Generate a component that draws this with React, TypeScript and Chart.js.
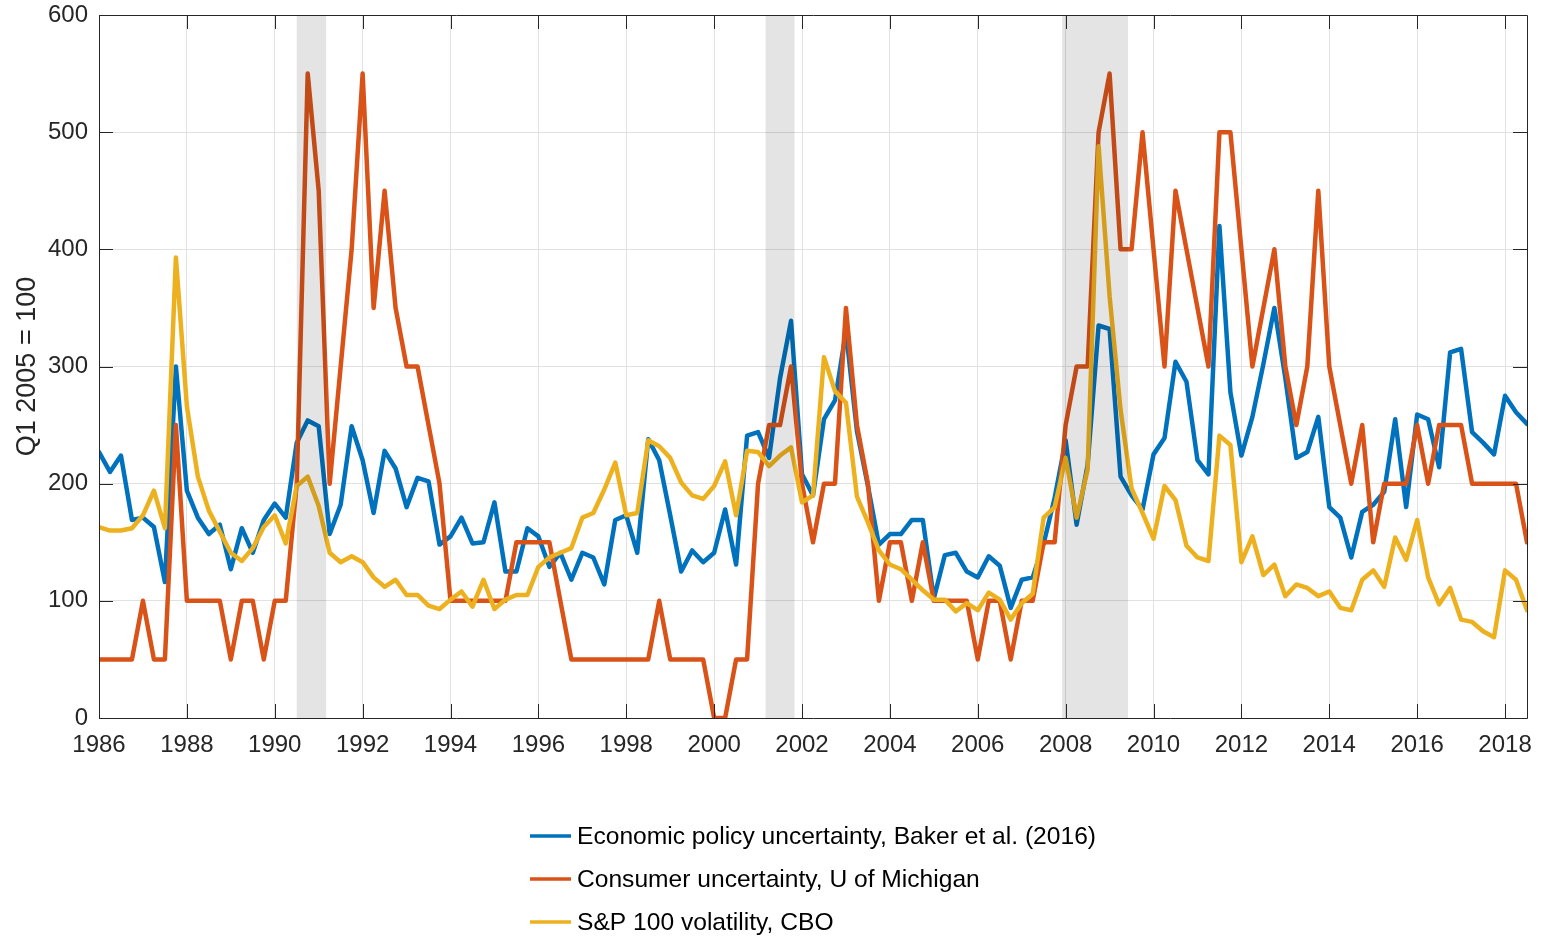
import { useEffect, useRef } from 'react';
import { Chart, registerables } from 'chart.js';

Chart.register(...registerables);

const FONT = '"Liberation Sans", Arial, Helvetica, sans-serif';
const TEXT = '#262626';

const startYear = 1986;
const seriesLabels = [
  'Economic policy uncertainty, Baker et al. (2016)',
  'Consumer uncertainty, U of Michigan',
  'S&P 100 volatility, CBO',
];
const seriesColors = ['#0072BD', '#D95319', '#EDB120'];

// quarterly values, 1986Q1 .. 2018Q3
const policyUncertainty = [
  227, 210, 224, 169,
  171, 163, 116, 300,
  194, 171, 157, 165,
  127, 162, 141, 169,
  183, 171, 235, 254,
  249, 157, 182, 249,
  220, 175, 228, 213,
  180, 205, 202, 148,
  155, 171, 149, 150,
  184, 125, 125, 162,
  155, 129, 141, 118,
  141, 137, 114, 169,
  173, 141, 238, 220,
  173, 125, 143, 133,
  141, 178, 131, 241,
  244, 222, 290, 339,
  208, 190, 255, 271,
  330, 245, 198, 148,
  157, 157, 169, 169,
  102, 139, 141, 125,
  120, 138, 130, 94,
  118, 120, 149, 188,
  237, 165, 216, 335,
  332, 206, 190, 178,
  225, 239, 304, 287,
  220, 208, 420, 278,
  224, 257, 302, 350,
  290, 222, 227, 257,
  180, 171, 137, 176,
  182, 193, 255, 180,
  259, 255, 214, 312,
  315, 244, 235, 225,
  275, 261, 251,
];

const consumerUncertainty = [
  50, 50, 50, 50,
  100, 50, 50, 250,
  100, 100, 100, 100,
  50, 100, 100, 50,
  100, 100, 200, 550,
  450, 200, 300, 400,
  550, 350, 450, 350,
  300, 300, 250, 200,
  100, 100, 100, 100,
  100, 100, 150, 150,
  150, 150, 100, 50,
  50, 50, 50, 50,
  50, 50, 50, 100,
  50, 50, 50, 50,
  0, 0, 50, 50,
  200, 250, 250, 300,
  200, 150, 200, 200,
  350, 250, 200, 100,
  150, 150, 100, 150,
  100, 100, 100, 100,
  50, 100, 100, 50,
  100, 100, 150, 150,
  250, 300, 300, 500,
  550, 400, 400, 500,
  400, 300, 450, 400,
  350, 300, 500, 500,
  400, 300, 350, 400,
  300, 250, 300, 450,
  300, 250, 200, 250,
  150, 200, 200, 200,
  250, 200, 250, 250,
  250, 200, 200, 200,
  200, 200, 150,
];

const sp100Volatility = [
  163, 160, 160, 162,
  173, 194, 162, 393,
  266, 206, 177, 159,
  141, 134, 145, 163,
  173, 149, 198, 206,
  181, 141, 133, 138,
  133, 120, 112, 118,
  105, 105, 96, 93,
  101, 108, 95, 118,
  93, 101, 105, 105,
  129, 137, 141, 145,
  171, 175, 195, 218,
  173, 175, 237, 232,
  222, 201, 190, 187,
  198, 219, 173, 228,
  227, 215, 224, 231,
  184, 190, 308, 279,
  269, 189, 167, 143,
  131, 127, 118, 109,
  101, 101, 91, 98,
  92, 107, 101, 84,
  98, 106, 171, 180,
  222, 171, 212, 488,
  360, 263, 196, 175,
  153, 198, 186, 147,
  137, 134, 241, 233,
  133, 155, 122, 131,
  104, 114, 111, 104,
  108, 94, 92, 118,
  126, 112, 154, 135,
  169, 120, 97, 111,
  84, 82, 74, 69,
  126, 118, 92,
];

const xTickYears = [1986, 1988, 1990, 1992, 1994, 1996, 1998, 2000, 2002, 2004, 2006, 2008, 2010, 2012, 2014, 2016, 2018];
const xMin = 1986;
const xMax = 2018.5;
const yTicks = [0, 100, 200, 300, 400, 500, 600];
const yTitle = 'Q1 2005 = 100';

const recessionStart = [1990.5, 2001.17, 2007.92];
const recessionEnd = [1991.17, 2001.83, 2009.42];

const toPoints = (arr: number[]) => arr.map((v, i) => ({ x: startYear + i / 4, y: v }));

const recessionPlugin = {
  id: 'recessionShade',
  afterDatasetsDraw(chart: any) {
    const { ctx, chartArea, scales } = chart;
    const xs = scales.x;
    ctx.save();
    ctx.fillStyle = 'rgba(0,0,0,0.105)';
    recessionStart.forEach((s, i) => {
      const x0 = xs.getPixelForValue(s);
      const x1 = xs.getPixelForValue(recessionEnd[i]);
      ctx.fillRect(x0, chartArea.top, x1 - x0, chartArea.bottom - chartArea.top);
    });
    ctx.restore();
  },
};

const boxPlugin = {
  id: 'boxTicks',
  afterDatasetsDraw(chart: any) {
    const { ctx, chartArea, scales } = chart;
    const { left, right, top, bottom } = chartArea;
    const tl = 14;
    ctx.save();
    ctx.strokeStyle = TEXT;
    ctx.lineWidth = 1;
    ctx.beginPath();
    ctx.rect(Math.round(left) + 0.5, Math.round(top) + 0.5, Math.round(right - left), Math.round(bottom - top));
    xTickYears.forEach((v) => {
      const px = Math.round(scales.x.getPixelForValue(v)) + 0.5;
      ctx.moveTo(px, bottom);
      ctx.lineTo(px, bottom - tl);
      ctx.moveTo(px, top);
      ctx.lineTo(px, top + tl);
    });
    yTicks.forEach((v) => {
      const py = Math.round(scales.y.getPixelForValue(v)) + 0.5;
      ctx.moveTo(left, py);
      ctx.lineTo(left + tl, py);
      ctx.moveTo(right, py);
      ctx.lineTo(right - tl, py);
    });
    ctx.stroke();
    ctx.restore();
  },
};

const legendPlugin = {
  id: 'stackedLegend',
  afterDraw(chart: any) {
    const { ctx, chartArea } = chart;
    const lineLen = 41;
    const gap = 6;
    const rowStep = 43;
    ctx.save();
    ctx.font = `24.6px ${FONT}`;
    const datasets = chart.data.datasets;
    const widths = datasets.map((d: any) => ctx.measureText(d.label).width);
    const total = lineLen + gap + Math.max(...widths);
    const cx = (chartArea.left + chartArea.right) / 2;
    const x0 = cx - total / 2;
    datasets.forEach((d: any, i: number) => {
      const y = chartArea.bottom + 118 + i * rowStep;
      ctx.strokeStyle = d.borderColor;
      ctx.lineWidth = 3.5;
      ctx.lineCap = 'butt';
      ctx.beginPath();
      ctx.moveTo(x0, y);
      ctx.lineTo(x0 + lineLen, y);
      ctx.stroke();
      ctx.fillStyle = '#000000';
      ctx.textAlign = 'left';
      ctx.textBaseline = 'middle';
      ctx.fillText(d.label, x0 + lineLen + gap, y + 1);
    });
    ctx.restore();
  },
};

export default function App() {
  const canvasRef = useRef<HTMLCanvasElement | null>(null);

  useEffect(() => {
    if (!canvasRef.current) return;
    const series = [policyUncertainty, consumerUncertainty, sp100Volatility];
    const chart = new Chart(canvasRef.current, {
      type: 'line',
      data: {
        datasets: series.map((s, i) => ({
          label: seriesLabels[i],
          data: toPoints(s),
          borderColor: seriesColors[i],
          backgroundColor: seriesColors[i],
          borderWidth: 4.5,
          pointRadius: 0,
          tension: 0,
          fill: false,
          borderJoinStyle: 'round' as const,
          borderCapStyle: 'round' as const,
          order: 2 - i,
        })),
      },
      options: {
        responsive: false,
        animation: false,
        devicePixelRatio: 1,
        layout: { padding: { left: 0, right: 16, top: 15, bottom: 161 } },
        plugins: {
          legend: { display: false },
          tooltip: { enabled: false },
          title: { display: false },
        },
        scales: {
          x: {
            type: 'linear',
            min: xMin,
            max: xMax,
            afterBuildTicks: (scale: any) => {
              scale.ticks = xTickYears.map((v) => ({ value: v }));
            },
            afterFit: (scale: any) => {
              scale.height = 60;
              scale.paddingLeft = 0;
              scale.paddingRight = 0;
            },
            ticks: {
              autoSkip: false,
              maxRotation: 0,
              padding: 13,
              color: TEXT,
              font: { family: FONT, size: 24 },
              callback: (v: any) => String(v),
            },
            grid: { color: '#e1e1e1', lineWidth: 1, drawTicks: false },
            border: { display: false },
          },
          y: {
            type: 'linear',
            min: 0,
            max: 600,
            afterBuildTicks: (scale: any) => {
              scale.ticks = yTicks.map((v) => ({ value: v }));
            },
            afterFit: (scale: any) => {
              scale.width = 99;
              scale.paddingTop = 0;
              scale.paddingBottom = 0;
            },
            ticks: {
              padding: 11,
              color: TEXT,
              font: { family: FONT, size: 24 },
              callback: (v: any) => String(v),
            },
            grid: { color: '#e1e1e1', lineWidth: 1, drawTicks: false },
            border: { display: false },
            title: {
              display: true,
              text: yTitle,
              color: TEXT,
              font: { family: FONT, size: 27 },
              padding: { top: 11, bottom: 0 },
            },
          },
        },
      },
      plugins: [recessionPlugin, boxPlugin, legendPlugin],
    } as any);
    return () => chart.destroy();
  }, []);

  return (
    <div style={{ position: 'absolute', left: 0, top: 0, width: 1543, height: 939, background: '#ffffff' }}>
      <canvas ref={canvasRef} width={1543} height={939} style={{ display: 'block', width: 1543, height: 939 }} />
    </div>
  );
}
